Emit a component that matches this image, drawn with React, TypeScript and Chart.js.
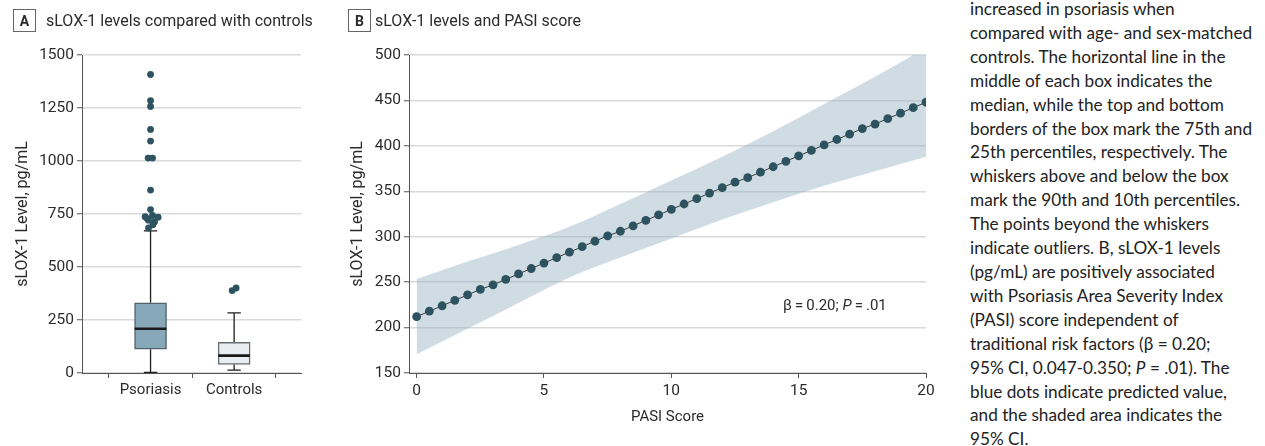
import React, { useEffect, useRef } from 'react';
import { Chart, registerables } from 'chart.js';

Chart.register(...registerables);

// ---------- Panel A data (box plot) ----------
const categories = ['Psoriasis', 'Controls'];
const categoryPositions = [1, 2];
const boxQ1 = [112, 41];
const boxMedian = [209, 82];
const boxQ3 = [331, 145];
const whiskerLow = [3, 14];
const whiskerHigh = [670, 284];
const psoriasisOutliers = [1408, 1285, 1257, 1149, 1094, 1014, 1014, 863, 771, 743, 737, 735, 729, 721, 713, 699, 684];
const psoriasisJitter = [0, 0, 0, 0, 0, -0.029, 0.024, 0, 0, 0.024, -0.065, 0.091, -0.041, -0.024, 0.048, 0.028, -0.024];
const controlsOutliers = [389, 401];
const controlsJitter = [-0.024, 0.024];
const levelTicksA = [0, 250, 500, 750, 1000, 1250, 1500];

// ---------- Panel B data (regression) ----------
const pasiScores = [0, 0.5, 1, 1.5, 2, 2.5, 3, 3.5, 4, 4.5, 5, 5.5, 6, 6.5, 7, 7.5, 8, 8.5, 9, 9.5, 10,
  10.5, 11, 11.5, 12, 12.5, 13, 13.5, 14, 14.5, 15, 15.5, 16, 16.5, 17, 17.5, 18, 18.5, 19, 19.5, 20];
const predicted = [212, 218, 224, 230, 236, 242, 247, 253, 259, 265, 271, 277, 283, 289, 295, 301, 306, 312, 318, 324, 330,
  336, 342, 348, 354, 360, 365, 371, 377, 383, 389, 395, 401, 407, 413, 419, 424, 430, 436, 442, 448];
const ciScores = [0, 2, 4, 6, 8, 10, 12, 14, 16, 18, 20];
const ciUpper = [253.5, 272.6, 291, 311, 336, 362, 388, 416, 446, 476, 508];
const ciLower = [170.5, 198.6, 227, 255, 277, 298, 319, 338, 356, 372, 388];
const pasiTicks = [0, 5, 10, 15, 20];
const levelTicksB = [150, 200, 250, 300, 350, 400, 450, 500];

const captionLines = [
  'increased in psoriasis when',
  'compared with age- and sex-matched',
  'controls. The horizontal line in the',
  'middle of each box indicates the',
  'median, while the top and bottom',
  'borders of the box mark the 75th and',
  '25th percentiles, respectively. The',
  'whiskers above and below the box',
  'mark the 90th and 10th percentiles.',
  'The points beyond the whiskers',
  'indicate outliers. B, sLOX-1 levels',
  '(pg/mL) are positively associated',
  'with Psoriasis Area Severity Index',
  '(PASI) score independent of',
  'traditional risk factors (β = 0.20;',
  '__P__',
  'blue dots indicate predicted value,',
  'and the shaded area indicates the',
  '95% CI.',
];

// ---------- styles ----------
const FONT = 'Roboto';
const TEXT = '#2b2b2b';
const AXIS = '#555';
const GRID = '#d9d9d9';
const DOT = '#2c535f';
const CAP_HALF = 0.08;
const MEDIAN_HALF = 0.19;

function fixAxis(size: number) {
  return (scale: any) => {
    if (scale.isHorizontal()) scale.height = size;
    else scale.width = size;
  };
}

function setTicks(values: number[]) {
  return (scale: any) => {
    scale.ticks = values.map((v) => ({ value: v }));
  };
}

const plainNumber = (v: any) => String(v);

function BoxPanel() {
  const ref = useRef<HTMLCanvasElement | null>(null);
  useEffect(() => {
    if (!ref.current) return;
    const boxData = categoryPositions.map((x, i) => ({ x, y: [boxQ1[i], boxQ3[i]] }));
    const whiskers: any[] = [];
    const medians: any[] = [];
    categoryPositions.forEach((x, i) => {
      whiskers.push(
        { x, y: boxQ3[i] }, { x, y: whiskerHigh[i] }, { x, y: null },
        { x: x - CAP_HALF, y: whiskerHigh[i] }, { x: x + CAP_HALF, y: whiskerHigh[i] }, { x, y: null },
        { x, y: boxQ1[i] }, { x, y: whiskerLow[i] }, { x, y: null },
        { x: x - CAP_HALF, y: whiskerLow[i] }, { x: x + CAP_HALF, y: whiskerLow[i] }, { x, y: null },
      );
      medians.push({ x: x - MEDIAN_HALF, y: boxMedian[i] }, { x: x + MEDIAN_HALF, y: boxMedian[i] }, { x, y: null });
    });
    const outliers = [
      ...psoriasisOutliers.map((v, i) => ({ x: categoryPositions[0] + psoriasisJitter[i], y: v })),
      ...controlsOutliers.map((v, i) => ({ x: categoryPositions[1] + controlsJitter[i], y: v })),
    ];
    const chart = new Chart(ref.current, {
      type: 'bar',
      data: {
        datasets: [
          {
            type: 'scatter',
            data: outliers,
            pointRadius: 3.4,
            pointBackgroundColor: DOT,
            pointBorderWidth: 0,
            order: 0,
          } as any,
          {
            type: 'line',
            data: medians,
            borderColor: '#1a1a1a',
            borderWidth: 2.6,
            pointRadius: 0,
            fill: false,
            order: 1,
          } as any,
          {
            type: 'bar',
            data: boxData,
            backgroundColor: ['#87a8b8', '#e8edf1'],
            borderColor: ['#55646b', '#6a6f73'],
            borderWidth: 1.5,
            borderSkipped: false,
            barThickness: 32,
            order: 3,
          } as any,
          {
            type: 'line',
            data: whiskers,
            borderColor: '#1e1e1e',
            borderWidth: 1.3,
            pointRadius: 0,
            fill: false,
            order: 4,
          } as any,
        ],
      },
      options: {
        animation: false,
        responsive: false,
        devicePixelRatio: 1,
        layout: { padding: { left: 0, right: 29, top: 55, bottom: 0 } },
        plugins: { legend: { display: false }, tooltip: { enabled: false } },
        scales: {
          x: {
            type: 'linear',
            min: 0.18,
            max: 2.8,
            offset: false,
            afterFit: fixAxis(73),
            afterBuildTicks: setTicks(categoryPositions),
            grid: { drawOnChartArea: false, tickLength: 5, tickColor: AXIS, tickWidth: 1 },
            border: { color: AXIS, width: 1 },
            ticks: {
              padding: 3,
              color: TEXT,
              font: { family: FONT, size: 15 },
              callback: (v: any) => {
                const idx = categoryPositions.indexOf(Number(v));
                return idx >= 0 ? categories[idx] : '';
              },
            },
          },
          y: {
            type: 'linear',
            min: 0,
            max: 1500,
            afterFit: fixAxis(82),
            afterBuildTicks: setTicks(levelTicksA),
            grid: { color: GRID, lineWidth: 1.5, tickLength: 5, tickColor: AXIS, tickWidth: 1 },
            border: { color: AXIS, width: 1 },
            ticks: { padding: 3, color: TEXT, font: { family: FONT, size: 15.5 }, callback: plainNumber },
            title: {
              display: true,
              text: 'sLOX-1 Level, pg/mL',
              color: TEXT,
              font: { family: FONT, size: 16 },
              padding: { top: 13.5, bottom: 0 },
            },
          },
        },
      },
    } as any);
    return () => chart.destroy();
  }, []);
  return <canvas ref={ref} width={330} height={446} style={{ position: 'absolute', left: 0, top: 0 }} />;
}

function RegressionPanel() {
  const ref = useRef<HTMLCanvasElement | null>(null);
  useEffect(() => {
    if (!ref.current) return;
    const chart = new Chart(ref.current, {
      type: 'line',
      data: {
        datasets: [
          {
            data: pasiScores.map((x, i) => ({ x, y: predicted[i] })),
            borderColor: '#3a3a3a',
            borderWidth: 1,
            pointRadius: 4.4,
            pointBackgroundColor: DOT,
            pointBorderWidth: 0,
            fill: false,
            order: 0,
          },
          {
            data: ciScores.map((x, i) => ({ x, y: ciUpper[i] })),
            borderColor: 'rgba(0,0,0,0)',
            borderWidth: 0,
            pointRadius: 0,
            fill: '+1',
            backgroundColor: 'rgba(151,177,193,0.45)',
            cubicInterpolationMode: 'monotone',
            order: 1,
          },
          {
            data: ciScores.map((x, i) => ({ x, y: ciLower[i] })),
            borderColor: 'rgba(0,0,0,0)',
            borderWidth: 0,
            pointRadius: 0,
            fill: false,
            cubicInterpolationMode: 'monotone',
            order: 2,
          },
        ],
      },
      options: {
        animation: false,
        responsive: false,
        devicePixelRatio: 1,
        layout: { padding: { left: 0, right: 14, top: 55, bottom: 0 } },
        plugins: { legend: { display: false }, tooltip: { enabled: false } },
        scales: {
          x: {
            type: 'linear',
            min: -0.3,
            max: 20,
            afterFit: fixAxis(73),
            afterBuildTicks: setTicks(pasiTicks),
            grid: { drawOnChartArea: false, tickLength: 5, tickColor: AXIS, tickWidth: 1 },
            border: { color: AXIS, width: 1 },
            ticks: { padding: 4, color: TEXT, font: { family: FONT, size: 15.5 }, callback: plainNumber },
            title: {
              display: true,
              text: 'PASI Score',
              color: TEXT,
              font: { family: FONT, size: 15 },
              padding: { top: 0, bottom: 20 },
            },
          },
          y: {
            type: 'linear',
            min: 150,
            max: 500,
            afterFit: fixAxis(69),
            afterBuildTicks: setTicks(levelTicksB),
            grid: { color: GRID, lineWidth: 1.5, tickLength: 5, tickColor: AXIS, tickWidth: 1 },
            border: { color: AXIS, width: 1 },
            ticks: { padding: 3, color: TEXT, font: { family: FONT, size: 15.5 }, callback: plainNumber },
            title: {
              display: true,
              text: 'sLOX-1 Level, pg/mL',
              color: TEXT,
              font: { family: FONT, size: 16 },
              padding: { top: 8.6, bottom: 0 },
            },
          },
        },
      },
    } as any);
    return () => chart.destroy();
  }, []);
  return <canvas ref={ref} width={600} height={446} style={{ position: 'absolute', left: 340, top: 0 }} />;
}

function PanelLabel({ letter, left, textLeft, title }: { letter: string; left: number; textLeft: number; title: string }) {
  return (
    <>
      <div
        style={{
          position: 'absolute', left, top: 9, width: 21, height: 21, border: '1px solid #666',
          display: 'flex', alignItems: 'center', justifyContent: 'center',
          font: `bold 14px ${FONT}`, color: TEXT, boxSizing: 'content-box',
        }}
      >
        {letter}
      </div>
      <div
        style={{
          position: 'absolute', left: textLeft, top: 11, font: `16px ${FONT}`, lineHeight: '20px',
          color: TEXT, whiteSpace: 'nowrap',
        }}
      >
        {title}
      </div>
    </>
  );
}

export default function App() {
  return (
    <div
      style={{
        position: 'fixed', left: 0, top: 0, width: 1265, height: 446, overflow: 'hidden',
        background: '#fff',
      }}
    >
      <BoxPanel />
      <RegressionPanel />
      <PanelLabel letter="A" left={13} textLeft={46} title="sLOX-1 levels compared with controls" />
      <PanelLabel letter="B" left={348} textLeft={375} title="sLOX-1 levels and PASI score" />
      <div
        style={{
          position: 'absolute', left: 783, top: 295, font: `15px ${FONT}`, lineHeight: '20px',
          color: TEXT, whiteSpace: 'nowrap',
        }}
      >
        β{'\u2009'}={'\u2009'}0.20; <i>P</i>{'\u2009'}={'\u2009'}.01
      </div>
      <div
        style={{
          position: 'absolute', left: 970, top: -3, font: '17.2px Lato', lineHeight: '23.9px',
          color: '#222', whiteSpace: 'nowrap',
        }}
      >
        {captionLines.map((line, i) =>
          line === '__P__' ? (
            <div key={i}>
              95% CI, 0.047-0.350; <i>P</i> = .01). The
            </div>
          ) : (
            <div key={i}>{line}</div>
          ),
        )}
      </div>
    </div>
  );
}
